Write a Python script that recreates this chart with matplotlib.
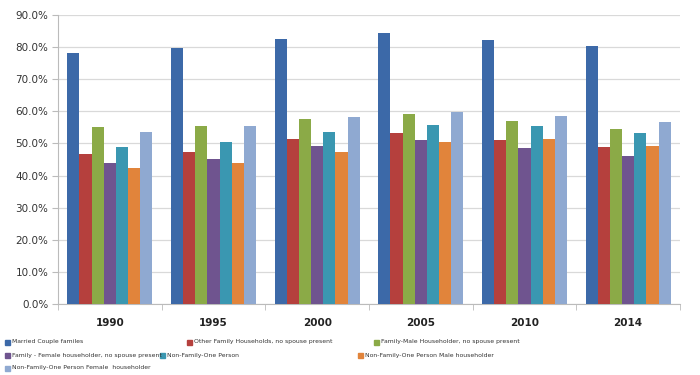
import matplotlib
matplotlib.use("Agg")
import matplotlib.pyplot as plt
import numpy as np
from matplotlib.patches import Rectangle
from matplotlib import font_manager

years = ["1990", "1995", "2000", "2005", "2010", "2014"]
series_names = [
    "Married Couple familes",
    "Other Family Households, no spouse present",
    "Family-Male Householder, no spouse present",
    "Family - Female householder, no spouse present",
    "Non-Family-One Person",
    "Non-Family-One Person Male householder",
    "Non-Family-One Person Female  householder",
]
married = [78.3, 79.6, 82.6, 84.3, 82.2, 80.2]
other_family = [46.6, 47.4, 51.3, 53.4, 51.1, 48.8]
family_male = [55.2, 55.5, 57.6, 59.1, 57.0, 54.5]
family_female = [44.0, 45.1, 49.2, 51.1, 48.7, 46.2]
nonfam_one = [49.0, 50.6, 53.7, 55.8, 55.5, 53.4]
nonfam_male = [42.5, 43.8, 47.4, 50.4, 51.3, 49.2]
nonfam_female = [53.7, 55.5, 58.2, 59.7, 58.7, 56.6]
values = [married, other_family, family_male, family_female, nonfam_one, nonfam_male, nonfam_female]
colors = ["#3C69A8", "#B5403D", "#8BAA47", "#6F548F", "#3A97B1", "#E1843B", "#8FA9D1"]

avail = {f.name for f in font_manager.fontManager.ttflist}
narrow = "Liberation Sans Narrow" if "Liberation Sans Narrow" in avail else "DejaVu Sans"
leg_size = 6.4 if narrow != "DejaVu Sans" else 4.4

W, H = 700, 375
fig = plt.figure(figsize=(7, 3.75), dpi=100)
ax = fig.add_axes([58 / W, 1 - 304 / H, (680 - 58) / W, (304 - 15) / H])

n = len(values)
x = np.arange(len(years))
bw = 0.82 / n
for i, (vals, c) in enumerate(zip(values, colors)):
    ax.bar(x - 0.41 + bw * (i + 0.5), vals, width=bw, color=c, zorder=3, linewidth=0)

ax.set_xlim(-0.5, len(years) - 0.5)
ax.set_ylim(0, 90)
ax.set_yticks(np.arange(0, 91, 10))
ax.set_yticklabels([f"{v:.1f}%" for v in np.arange(0, 91, 10)], fontsize=7.5, color="#333333")
ax.yaxis.grid(True, color="#D9D9D9", linewidth=0.9, zorder=0)
ax.set_xticks(x)
ax.set_xticklabels(years, fontsize=7.5, fontweight="bold", color="#222222")
ax.set_xticks(np.arange(-0.5, len(years), 1), minor=True)
ax.tick_params(axis="x", which="major", length=0, pad=10)
ax.tick_params(axis="x", which="minor", length=4, color="#BBBBBB")
ax.tick_params(axis="y", length=4, color="#BBBBBB", pad=3)
for s in ["top", "right"]:
    ax.spines[s].set_visible(False)
ax.spines["left"].set_color("#BBBBBB")
ax.spines["bottom"].set_color("#BBBBBB")

# legend
leg_pos = [(5, 342), (187, 342), (374, 342), (5, 355), (160, 355), (358, 355), (5, 368)]
for (px, py), name, c in zip(leg_pos, series_names, colors):
    fig.patches.append(Rectangle((px / W, 1 - (py + 3) / H), 5 / W, 5 / H,
                                 transform=fig.transFigure, color=c, figure=fig))
    fig.text((px + 7) / W, 1 - py / H, name, fontsize=leg_size, color="#333333",
             va="center", family=narrow)

fig.savefig("out.png", dpi=100)
